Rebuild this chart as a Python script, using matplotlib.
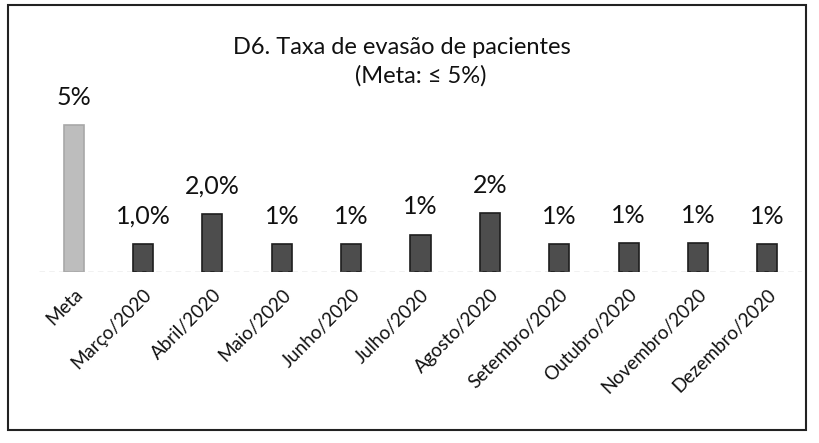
import matplotlib.pyplot as plt
from matplotlib.patches import Rectangle

plt.rcParams['font.family'] = ['Lato', 'DejaVu Sans']

categories = ['Meta', 'Março/2020', 'Abril/2020', 'Maio/2020', 'Junho/2020', 'Julho/2020',
              'Agosto/2020', 'Setembro/2020', 'Outubro/2020', 'Novembro/2020', 'Dezembro/2020']
values = [5.0, 0.96, 1.98, 0.94, 0.96, 1.27, 2.0, 0.96, 0.98, 0.97, 0.96]
labels = ['5%', '1,0%', '2,0%', '1%', '1%', '1%', '2%', '1%', '1%', '1%', '1%']

fig = plt.figure(figsize=(8.19, 4.43), dpi=100)
ax = fig.add_axes([39 / 819, 171 / 443, 763 / 819, 200 / 443])

x = range(len(categories))
colors = ['#bdbdbd'] + ['#4d4d4d'] * (len(categories) - 1)
edges = ['#a8a8a8'] + ['#1e1e1e'] * (len(categories) - 1)
ax.bar(x, values, width=0.29, color=colors, edgecolor=edges, linewidth=1.2)

for xi, v, lab in zip(x, values, labels):
    ax.text(xi, v + 0.55, lab, ha='center', va='bottom', fontsize=18, color='#111111')

ax.set_xlim(-0.5, len(categories) - 0.5)
ax.set_ylim(0, 200 / 29.4)
ax.axhline(0, color='#bbbbbb', lw=1, ls=(0, (4, 3)))

ax.set_xticks(list(x))
ax.set_xticklabels(categories, rotation=45, ha='right', rotation_mode='anchor',
                   fontsize=13.5, color='#111111')
ax.tick_params(axis='x', length=0, pad=10)
ax.set_yticks([])
for s in ax.spines.values():
    s.set_visible(False)

fig.text(402 / 819, 1 - 47 / 443, 'D6. Taxa de evasão de pacientes', ha='center', va='center',
         fontsize=17, color='#111111')
fig.text(421 / 819, 1 - 76 / 443, '(Meta: ≤ 5%)', ha='center', va='center',
         fontsize=17, color='#111111')

fig.patches.append(Rectangle((8 / 819, 13 / 443), 798 / 819, 425 / 443, transform=fig.transFigure,
                             fill=False, edgecolor='#222222', lw=1.5))

fig.savefig('out.png', dpi=100)
